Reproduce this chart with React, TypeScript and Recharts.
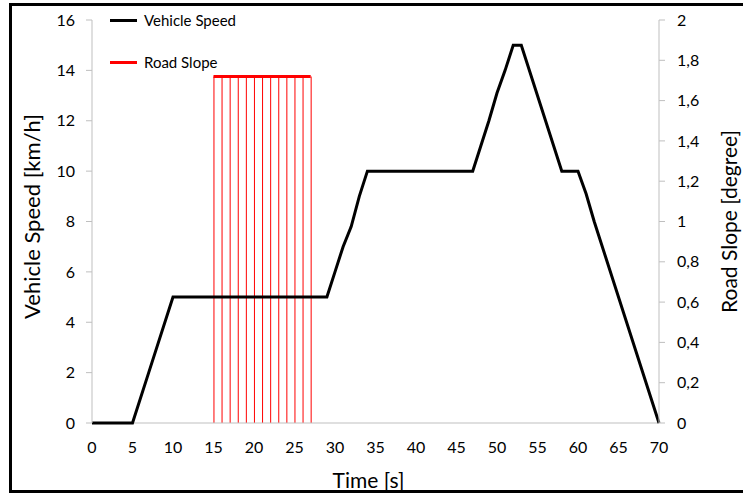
import React from 'react';
import { ComposedChart, Line, Bar, XAxis, YAxis, ReferenceLine } from 'recharts';

const speedTime = [0, 5, 7, 10, 29, 30, 31, 32, 33, 34, 47, 48, 49, 50, 51, 52, 53, 58, 60, 61, 62, 70];
const speedValue = [0, 0, 2, 5, 5, 6, 7, 7.8, 9, 10, 10, 11, 12, 13.1, 14, 15, 15, 10, 10, 9.1, 8, 0];
const slopeTime = [15, 16, 17, 18, 19, 20, 21, 22, 23, 24, 25, 26, 27];
const slopeValue = [1.72, 1.72, 1.72, 1.72, 1.72, 1.72, 1.72, 1.72, 1.72, 1.72, 1.72, 1.72, 1.72];
const xTicks = [0, 5, 10, 15, 20, 25, 30, 35, 40, 45, 50, 55, 60, 65, 70];
const leftTicks = [0, 2, 4, 6, 8, 10, 12, 14, 16];
const rightTicks = [0, 0.2, 0.4, 0.6, 0.8, 1, 1.2, 1.4, 1.6, 1.8, 2];
const seriesNames = ['Vehicle Speed', 'Road Slope'];
const seriesColors = ['#000000', '#ff0000'];

type Row = { t: number; speed?: number; slope?: number };
const buildData = (): Row[] => {
  const map = new Map<number, Row>();
  speedTime.forEach((t, i) => {
    const r = map.get(t) || { t };
    r.speed = speedValue[i];
    map.set(t, r);
  });
  slopeTime.forEach((t, i) => {
    const r = map.get(t) || { t };
    r.slope = slopeValue[i];
    map.set(t, r);
  });
  return Array.from(map.values()).sort((a, b) => a.t - b.t);
};
const data = buildData();

const FONT = 'Lato, "Open Sans", sans-serif';
const AXIS = '#bfbfbf';

export default function App() {
  return (
    <div style={{ position: 'absolute', left: 0, top: 0, width: 743, height: 497, overflow: 'hidden', background: '#fff' }}>
      <div style={{ position: 'absolute', left: 9, top: 3, width: 760, height: 490, borderTop: '3px solid #000', borderLeft: '3px solid #000', borderBottom: '3px solid #000', boxSizing: 'border-box' }} />
      <div style={{ position: 'absolute', left: 0, top: 0 }}>
        <ComposedChart width={743} height={497} data={data} margin={{ top: 20, right: 0, left: 0, bottom: 0 }}>
          <XAxis
            dataKey="t"
            type="number"
            domain={[0, 70]}
            ticks={xTicks}
            interval={0}
            height={74}
            tickLine={false}
            axisLine={false}
            tickSize={0}
            tickMargin={19}
            tick={{ fill: '#000', fontSize: 16, fontFamily: FONT }}
            label={{ value: 'Time [s]', position: 'insideBottom', offset: 9, dx: -7, fill: '#000', fontSize: 21, fontFamily: FONT }}
          />
          <YAxis
            yAxisId="left"
            domain={[0, 16]}
            ticks={leftTicks}
            interval={0}
            width={92}
            tickSize={6}
            tickMargin={11}
            stroke={AXIS}
            tick={{ fill: '#000', fontSize: 16, fontFamily: FONT }}
            label={{ value: 'Vehicle Speed [km/h]', angle: -90, position: 'center', dx: -14, dy: -5, fill: '#000', fontSize: 22, fontFamily: FONT }}
          />
          <YAxis
            yAxisId="right"
            orientation="right"
            domain={[0, 2]}
            ticks={rightTicks}
            interval={0}
            width={84}
            tickSize={6}
            tickMargin={12}
            stroke={AXIS}
            tickFormatter={(v: number) => String(v).replace('.', ',')}
            tick={{ fill: '#000', fontSize: 16, fontFamily: FONT }}
            label={{ value: 'Road Slope [degree]', angle: -90, position: 'center', dx: 29, fill: '#000', fontSize: 21, fontFamily: FONT }}
          />
          <ReferenceLine yAxisId="left" y={0} stroke={AXIS} strokeWidth={1} />
          <Bar yAxisId="right" dataKey="slope" name={seriesNames[1]} fill={seriesColors[1]} barSize={1} isAnimationActive={false} />
          <Line yAxisId="right" dataKey="slope" name={seriesNames[1]} stroke={seriesColors[1]} strokeWidth={3} dot={false} connectNulls isAnimationActive={false} />
          <Line yAxisId="left" dataKey="speed" name={seriesNames[0]} stroke={seriesColors[0]} strokeWidth={3} dot={false} connectNulls isAnimationActive={false} />
        </ComposedChart>
      </div>
      <div style={{ position: 'absolute', left: 110, top: 10, fontFamily: FONT, fontSize: 15, color: '#000' }}>
        {seriesNames.map((n, i) => (
          <div key={n} style={{ display: 'flex', alignItems: 'center', height: 20, marginBottom: 22 }}>
            <div style={{ width: 27, height: 3, background: seriesColors[i], marginRight: 7 }} />
            <span>{n}</span>
          </div>
        ))}
      </div>
    </div>
  );
}
